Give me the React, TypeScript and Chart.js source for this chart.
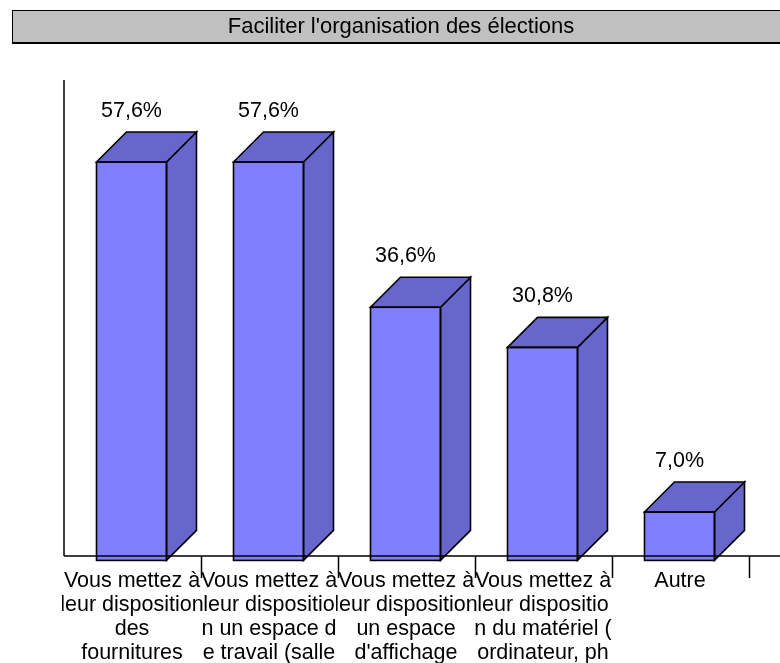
import React, { useEffect, useRef } from "react";
import { Chart, registerables } from "chart.js";

Chart.register(...registerables);

const titleText = "Faciliter l'organisation des élections";
const categoryLines: string[][] = [
  ["Vous mettez à", "leur disposition", "des", "fournitures"],
  ["Vous mettez à", "leur dispositio", "n un espace d", "e travail (salle"],
  ["Vous mettez à", "leur disposition", "un espace", "d'affichage"],
  ["Vous mettez à", "leur dispositio", "n du matériel (", "ordinateur, ph"],
  ["Autre"],
];
const values = [57.6, 57.6, 36.6, 30.8, 7.0];
const valueLabels = ["57,6%", "57,6%", "36,6%", "30,8%", "7,0%"];

const TITLE_FONT = '22px "Liberation Sans", Arial, sans-serif';
const FONT = '21.5px "Liberation Sans", Arial, sans-serif';
const FRONT = "#8080FF";
const SIDE = "#6666CC";
const DEPTH = 30;

const decoPlugin = {
  id: "deco",
  beforeDraw(chart: any) {
    const ctx = chart.ctx;
    ctx.save();
    ctx.fillStyle = "#ffffff";
    ctx.fillRect(0, 0, chart.width, chart.height);
    ctx.fillStyle = "#C0C0C0";
    ctx.fillRect(12, 10, 780, 34);
    ctx.strokeStyle = "#000";
    ctx.lineWidth = 1;
    ctx.strokeRect(12.5, 10.5, 780, 32);
    ctx.lineWidth = 2;
    ctx.beginPath();
    ctx.moveTo(12, 43);
    ctx.lineTo(792, 43);
    ctx.stroke();
    ctx.fillStyle = "#000";
    ctx.font = TITLE_FONT;
    ctx.textAlign = "center";
    ctx.textBaseline = "middle";
    ctx.fillText(titleText, 401, 27);
    ctx.restore();
  },
  afterDatasetsDraw(chart: any) {
    const ctx = chart.ctx;
    const area = chart.chartArea;
    const xScale = chart.scales.x;
    const meta = chart.getDatasetMeta(0);
    ctx.save();
    ctx.lineWidth = 1.6;
    ctx.strokeStyle = "#000";
    ctx.lineJoin = "miter";
    meta.data.forEach((el: any) => {
      const p = el.getProps(["x", "y", "base", "width"], true);
      const l = p.x - p.width / 2 - 1;
      const r = p.x + p.width / 2 - 1;
      const t = p.y;
      const b = p.base;
      ctx.fillStyle = FRONT;
      ctx.fillRect(l, t, p.width, b - t);
      ctx.fillStyle = SIDE;
      ctx.beginPath();
      ctx.moveTo(r, t);
      ctx.lineTo(r + DEPTH, t - DEPTH);
      ctx.lineTo(r + DEPTH, b - DEPTH);
      ctx.lineTo(r, b);
      ctx.closePath();
      ctx.fill();
      ctx.stroke();
      ctx.beginPath();
      ctx.moveTo(l, t);
      ctx.lineTo(l + DEPTH, t - DEPTH);
      ctx.lineTo(r + DEPTH, t - DEPTH);
      ctx.lineTo(r, t);
      ctx.closePath();
      ctx.fill();
      ctx.stroke();
      ctx.strokeRect(l, t, p.width, b - t);
    });
    ctx.lineWidth = 1.5;
    ctx.beginPath();
    ctx.moveTo(area.left, area.top);
    ctx.lineTo(area.left, area.bottom);
    ctx.moveTo(area.left, area.bottom);
    ctx.lineTo(chart.width, area.bottom);
    ctx.stroke();
    const n = values.length;
    const step = (area.right - area.left) / n;
    ctx.beginPath();
    for (let i = 1; i <= n; i++) {
      const x = Math.round(area.left + step * i) + 0.5;
      ctx.moveTo(x, area.bottom);
      ctx.lineTo(x, area.bottom + 22);
    }
    ctx.stroke();
    ctx.fillStyle = "#000";
    ctx.font = FONT;
    ctx.textAlign = "center";
    ctx.textBaseline = "middle";
    meta.data.forEach((el: any, i: number) => {
      const p = el.getProps(["x", "y"], true);
      ctx.fillText(valueLabels[i], p.x - 1, p.y - DEPTH - 21);
    });
    categoryLines.forEach((lines, i) => {
      const cx = xScale.getPixelForValue(i);
      ctx.save();
      ctx.beginPath();
      ctx.rect(cx - 70.5, area.bottom + 2, 141, chart.height);
      ctx.clip();
      ctx.textBaseline = "alphabetic";
      lines.forEach((line, j) => {
        ctx.fillText(line, cx - 0.5, area.bottom + 31 + j * 24);
      });
      ctx.restore();
    });
    ctx.restore();
  },
};

export default function App() {
  const ref = useRef<HTMLCanvasElement | null>(null);
  useEffect(() => {
    if (!ref.current) return;
    const chart = new Chart(ref.current, {
      type: "bar",
      data: {
        labels: categoryLines.map((l) => l.join(" ")),
        datasets: [
          {
            data: values,
            backgroundColor: "rgba(0,0,0,0)",
            borderWidth: 0,
            categoryPercentage: 70 / 137,
            barPercentage: 1,
          },
        ],
      },
      options: {
        responsive: false,
        animation: false,
        layout: { padding: { left: 64, right: 31, top: 80, bottom: 107 } },
        scales: {
          x: { display: false },
          y: { display: false, min: 0.64, max: 69.46 },
        },
        plugins: {
          legend: { display: false },
          tooltip: { enabled: false },
          title: { display: false },
        },
      },
      plugins: [decoPlugin],
    });
    return () => chart.destroy();
  }, []);
  return (
    <div style={{ position: "fixed", left: 0, top: 0, width: 780, height: 663, background: "#fff" }}>
      <canvas ref={ref} width={780} height={663} style={{ display: "block" }} />
    </div>
  );
}
